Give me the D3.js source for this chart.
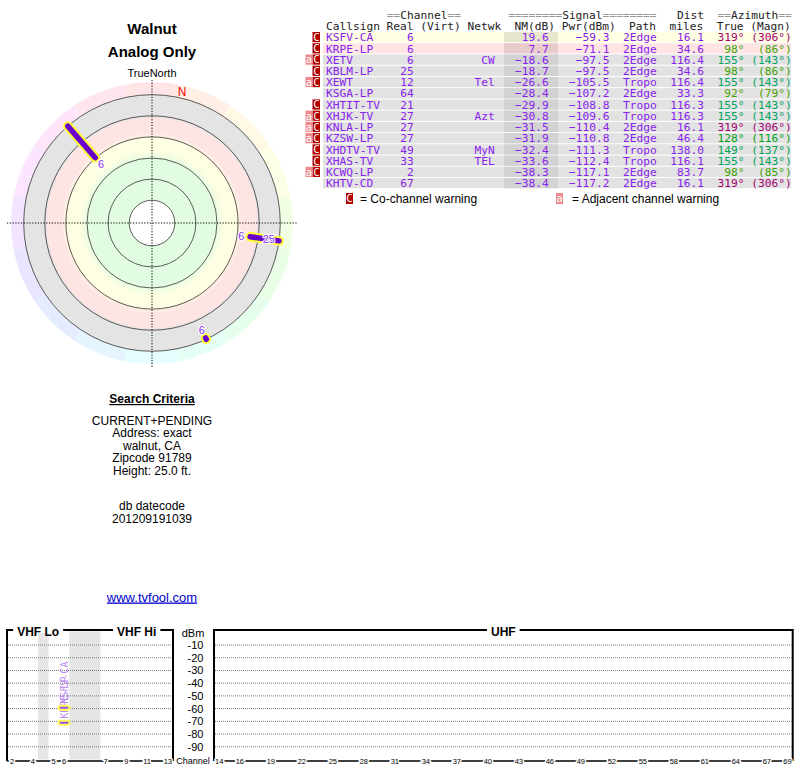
<!DOCTYPE html>
<html><head><meta charset="utf-8">
<script src="https://cdn.jsdelivr.net/npm/d3@7"></script>
<style>body{margin:0;background:#fff}svg{display:block}</style>
</head><body>
<svg id="c" width="800" height="768"></svg>
<script>
// ---------------- data ----------------
const callsigns = ["KSFV-CA","KRPE-LP","XETV","KBLM-LP","XEWT","KSGA-LP","XHTIT-TV","XHJK-TV","KNLA-LP","KZSW-LP","XHDTV-TV","XHAS-TV","KCWQ-LP","KHTV-CD"];
const realCh    = [6,6,6,25,12,64,21,27,27,27,49,33,2,67];
const networks  = ["","","CW","","Tel","","","Azt","","","MyN","TEL","",""];
const nmDb      = [19.6,7.7,-18.6,-18.7,-26.6,-28.4,-29.9,-30.8,-31.5,-31.9,-32.4,-33.6,-38.3,-38.4];
const pwrDbm    = [-59.3,-71.1,-97.5,-97.5,-105.5,-107.2,-108.8,-109.6,-110.4,-110.8,-111.3,-112.4,-117.1,-117.2];
const paths     = ["2Edge","2Edge","2Edge","2Edge","Tropo","2Edge","Tropo","Tropo","2Edge","2Edge","Tropo","Tropo","2Edge","2Edge"];
const distMiles = [16.1,34.6,116.4,34.6,116.4,33.3,116.3,116.3,16.1,46.4,138.0,116.1,83.7,16.1];
const azTrue    = [319,98,155,98,155,92,155,155,319,128,149,155,98,319];
const azMagn    = [306,86,143,86,143,79,143,143,306,116,137,143,85,306];
const warnings  = ["C","C","aC","C","aC","","C","aC","aC","aC","C","C","aC",""];

const ringDb    = [60,40,20,0,-20];
const dbmTicks  = [-10,-20,-30,-40,-50,-60,-70,-80,-90];
const vhfTicks  = [2,4,5,6,7,9,11,13];
const uhfTicks  = [14,16,19,22,25,28,31,34,37,40,43,46,49,52,55,58,61,64,67,69];
const searchLines = ["CURRENT+PENDING","Address: exact","walnut, CA","Zipcode 91789","Height: 25.0 ft."];
const dbLines   = ["db datecode","201209191039"];

// ---------------- setup ----------------
const svg = d3.select("#c");
const SANS = "'Liberation Sans', Arial, sans-serif";
const MONO = "'DejaVu Sans Mono', monospace";
const stations = callsigns.map((c,i)=>({call:c, ch:realCh[i], net:networks[i], nm:nmDb[i], pwr:pwrDbm[i], path:paths[i], dist:distMiles[i], az:azTrue[i], mag:azMagn[i], warn:warnings[i]}));
const f1 = d3.format(".1f");

// ---------------- titles ----------------
const txt = (x,y,s,opt={}) => svg.append("text").attr("x",x).attr("y",y).text(s)
  .attr("font-family",opt.ff||SANS).attr("font-size",opt.fs||12).attr("font-weight",opt.fw||"normal")
  .attr("text-anchor",opt.anchor||"middle").attr("fill",opt.fill||"#000")
  .attr("text-decoration",opt.td||null);
txt(152,34,"Walnut",{fs:15,fw:"bold"});
txt(152,57,"Analog Only",{fs:15,fw:"bold"});
txt(152,77,"TrueNorth",{fs:11});

// ---------------- polar ----------------
const cx=152, cy=223;
const rScale = d3.scaleLinear().domain([-20,80]).range([128.3,22.8]);
const pt = (az,r)=>[cx + r*Math.sin(az*Math.PI/180), cy - r*Math.cos(az*Math.PI/180)];
const P = svg.append("g");
const defs = svg.append("defs");
const R0 = rScale(-20);
const grad = defs.append("radialGradient").attr("id","bands").attr("gradientUnits","userSpaceOnUse")
  .attr("cx",cx).attr("cy",cy).attr("r",R0);
const bandStops = [[80,"#e2fce2"],[42,"#e2fce2"],[33,"#fefee2"],[22,"#fefee2"],[16,"#ffe4e4"],[3,"#ffe4e4"],[0,"#e4e4e4"],[-20,"#e4e4e4"]];
bandStops.forEach(([db,c])=>grad.append("stop").attr("offset",rScale(db)/R0).attr("stop-color",c));
// hue ring
const nSeg=16, arc=d3.arc();
d3.range(nSeg).forEach(k=>{
  const a0=(k-0.5)*360/nSeg, a1=(k+0.5)*360/nSeg;
  P.append("path").attr("transform",`translate(${cx},${cy})`)
   .attr("d",arc({innerRadius:R0,outerRadius:141,startAngle:a0*Math.PI/180,endAngle:a1*Math.PI/180}))
   .attr("fill",d3.hsl(k*360/nSeg,1,0.95).toString());
});
P.append("circle").attr("cx",cx).attr("cy",cy).attr("r",R0).attr("fill","url(#bands)");
ringDb.forEach(db=>P.append("circle").attr("cx",cx).attr("cy",cy).attr("r",rScale(db))
  .attr("fill","none").attr("stroke","#333").attr("stroke-width",0.8));
P.append("circle").attr("cx",cx).attr("cy",cy).attr("r",rScale(80)).attr("fill","#fff").attr("stroke","#333").attr("stroke-width",0.8);
// crosshair
P.append("line").attr("x1",cx-145).attr("x2",cx+145).attr("y1",cy).attr("y2",cy).attr("stroke","#000").attr("stroke-dasharray","1.2 1.6").attr("stroke-width",1);
P.append("line").attr("x1",cx).attr("x2",cx).attr("y1",cy-143).attr("y2",cy+145).attr("stroke","#000").attr("stroke-dasharray","1.2 1.6").attr("stroke-width",1);
// magnetic N
const decl = azTrue[0]-azMagn[0];
const np = pt(decl,134);
P.append("text").attr("x",np[0]).attr("y",np[1]+4).attr("text-anchor","middle").attr("font-family",SANS).attr("font-size",12).attr("fill","#e00").text("N");
// station marks grouped by azimuth
const groups = d3.groups(stations, d=>d.az).filter(([az,arr])=>d3.max(arr,d=>d.nm)>=-20);
groups.forEach(([az,arr])=>{
  const hi=d3.max(arr,d=>d.nm), lo=Math.max(-20,d3.min(arr,d=>d.nm));
  const p1=pt(az,rScale(hi)), p2=pt(az,rScale(lo));
  [["#ffff33",9.5],["#6a00cc",5.5]].forEach(([c,w])=>P.append("line")
    .attr("x1",p1[0]).attr("y1",p1[1]).attr("x2",p2[0]).attr("y2",p2[1])
    .attr("stroke",c).attr("stroke-width",w).attr("stroke-linecap","round"));
});
stations.filter(d=>d.nm>=-20).forEach(d=>{
  const p=pt(d.az,rScale(d.nm)-9);
  P.append("text").attr("x",p[0]).attr("y",p[1]+4).attr("text-anchor","middle")
   .attr("font-family",SANS).attr("font-size",11).attr("fill","#8833ee")
   .attr("stroke","#fff").attr("stroke-width",2).attr("paint-order","stroke").text(d.ch);
});

// ---------------- search criteria ----------------
txt(152,403,"Search Criteria",{fs:12,fw:"bold",td:"underline"});
searchLines.forEach((s,i)=>txt(152,424.5+i*12.5,s,{fs:12}));
dbLines.forEach((s,i)=>txt(152,510+i*13,s,{fs:12}));
txt(152,601.5,"www.tvfool.com",{fs:13,fill:"#0000cc",td:"underline"});

// ---------------- table ----------------
const x0=326, cw=6.75, rowY0=32, rowH=11.23;
const colX = c=>x0+c*cw;
const T = svg.append("g").attr("font-family",MONO).attr("font-size",11.2);
const hdr1=[[9,"==","Channel","=="],[27,"========","Signal","========"],[52,"","Dist",""],[58,"==","Azimuth","=="]];
hdr1.forEach(([c,a,w,b])=>{
  const t=T.append("text").attr("x",colX(c)).attr("y",18.5);
  t.append("tspan").attr("fill","#999").text(a);
  t.append("tspan").attr("fill","#222").text(w);
  t.append("tspan").attr("fill","#999").text(b);
});
T.append("text").attr("x",colX(0)).attr("y",29.5).attr("fill","#222").attr("xml:space","preserve")
 .style("white-space","pre").text("Callsign Real (Virt) Netwk  NM(dB) Pwr(dBm)  Path  miles  True (Magn)");
const bandColor = nm => nm>=35?["#e0fce0","#c8e4c8"]: nm>=19?["#fefee2","#e6e6cc"]: nm>=0?["#ffe4e4","#e8cccc"]:["#e2e2e2","#d2d2d2"];
const cols = [
  {c:0, a:"start", f:d=>d.call},
  {c:13,a:"end",   f:d=>d.ch},
  {c:25,a:"end",   f:d=>d.net},
  {c:33,a:"end",   f:d=>f1(d.nm)},
  {c:42,a:"end",   f:d=>f1(d.pwr)},
  {c:44,a:"start", f:d=>d.path},
  {c:56,a:"end",   f:d=>f1(d.dist)},
  {c:62,a:"end",   f:d=>d.az+"°", az:true},
  {c:69,a:"end",   f:d=>"("+d.mag+"°)", az:true}
];
const azColor = az => d3.hsl(az,1,0.32).toString();
stations.forEach((d,i)=>{
  const y=rowY0+i*rowH, bc=bandColor(d.nm);
  T.append("rect").attr("x",323).attr("y",y).attr("width",791-323).attr("height",rowH-1).attr("fill",bc[0]);
  T.append("rect").attr("x",504).attr("y",y).attr("width",54).attr("height",rowH-1).attr("fill",bc[1]);
  cols.forEach(col=>T.append("text").attr("x",colX(col.c)).attr("y",y+9.3).attr("text-anchor",col.a)
     .attr("fill",col.az?azColor(d.az):"#8822ee").text(col.f(d)));
  const w=d.warn;
  if(w.includes("C")){
    T.append("rect").attr("x",312.5).attr("y",y).attr("width",7.5).attr("height",rowH-1).attr("fill","#b00000");
    T.append("text").attr("x",316.3).attr("y",y+9).attr("text-anchor","middle").attr("fill","#fff").attr("font-size",10.5).text("C");
  }
  if(w.includes("a")){
    T.append("rect").attr("x",305.5).attr("y",y).attr("width",7).attr("height",rowH-1).attr("fill","#f08a8a");
    T.append("text").attr("x",309).attr("y",y+9).attr("text-anchor","middle").attr("fill","#fff").attr("font-size",10.5).text("a");
  }
});
// legend
svg.append("rect").attr("x",346).attr("y",193).attr("width",7).attr("height",11).attr("fill","#b00000");
svg.append("text").attr("x",349.5).attr("y",202).attr("text-anchor","middle").attr("fill","#fff").attr("font-family",MONO).attr("font-size",10.5).text("C");
txt(360,203,"= Co-channel warning",{fs:12,anchor:"start"});
svg.append("rect").attr("x",556).attr("y",193).attr("width",7).attr("height",11).attr("fill","#f08a8a");
svg.append("text").attr("x",559.5).attr("y",202).attr("text-anchor","middle").attr("fill","#fff").attr("font-family",MONO).attr("font-size",10.5).text("a");
txt(572,203,"= Adjacent channel warning",{fs:12,anchor:"start"});

// ---------------- spectrum chart ----------------
const yDbm = d3.scaleLinear().domain([0,-100]).range([632.3,759.5]);
const vhfUnit = ch => ch<=4 ? ch-2 : ch<=6 ? ch-1 : ch+2;
const vhfX = d3.scaleLinear().domain([0,16]).range([7,173]);
const uhfX = d3.scaleLinear().domain([14,70]).range([214,792.7]);
const chX = ch => ch<=13 ? vhfX(vhfUnit(ch)+0.5) : uhfX(ch+0.5);
const panels = [
  {x0:vhfX(0), x1:vhfX(16)},
  {x0:uhfX(14), x1:uhfX(70)}
];
const G = svg.append("g");
[[3,4],[6,9]].forEach(([a,b])=>G.append("rect").attr("x",vhfX(a)).attr("width",vhfX(b)-vhfX(a))
  .attr("y",yDbm(0)-1).attr("height",yDbm(-100)-yDbm(0)+1).attr("fill","#e6e6e6"));
panels.forEach(p=>dbmTicks.forEach(v=>G.append("line").attr("x1",p.x0+1).attr("x2",p.x1-1)
  .attr("y1",yDbm(v)).attr("y2",yDbm(v)).attr("stroke","#777").attr("stroke-width",1).attr("stroke-dasharray","1 1")));
const frameTop=630, frameBot=761;
panels.forEach(p=>{
  G.append("path").attr("d",`M${p.x0},${frameBot}V${frameTop}H${p.x1}V${frameBot}`).attr("fill","none").attr("stroke","#000").attr("stroke-width",2);
  G.append("line").attr("x1",p.x0).attr("x2",p.x1).attr("y1",frameBot).attr("y2",frameBot).attr("stroke","#000").attr("stroke-width",1.5);
});
const bandTitles=[["VHF Lo",(vhfX(0)+vhfX(6))/2],["VHF Hi",(vhfX(9)+vhfX(16))/2],["UHF",(uhfX(14)+uhfX(70))/2]];
bandTitles.forEach(([s,x])=>{
  const t=txt(x,636,s,{fs:12,fw:"bold"});
  const b=t.node().getBBox();
  G.append("rect").attr("x",b.x-4).attr("y",frameTop-3).attr("width",b.width+8).attr("height",6).attr("fill","#fff");
  t.raise();
});
txt(193,636.5,"dBm",{fs:11});
dbmTicks.forEach(v=>txt(203.5,yDbm(v)+4,v,{fs:11,anchor:"end"}));
txt(193,764,"Channel",{fs:9});
vhfTicks.concat(uhfTicks).forEach(ch=>svg.append("text").attr("x",chX(ch)).attr("y",763.5).attr("text-anchor","middle")
  .attr("font-family",SANS).attr("font-size",7.5).attr("fill","#000")
  .attr("stroke","#fff").attr("stroke-width",3).attr("paint-order","stroke").text(ch));
const shown = stations.filter(d=>d.nm>0);
shown.forEach(d=>{
  const x=chX(d.ch), y=yDbm(d.pwr);
  svg.append("text").attr("transform",`translate(${x+3.5},${y-4}) rotate(-90)`).attr("font-family",MONO)
    .attr("font-size",10).attr("fill","#bb88ee").text(d.call);
});
shown.forEach(d=>{
  const x=chX(d.ch), y=yDbm(d.pwr);
  svg.append("rect").attr("x",x-5.5).attr("y",y-2).attr("width",11).attr("height",4).attr("rx",2)
    .attr("fill","#9955dd").attr("stroke","#ffff55").attr("stroke-width",2);
});
</script>
</body></html>
